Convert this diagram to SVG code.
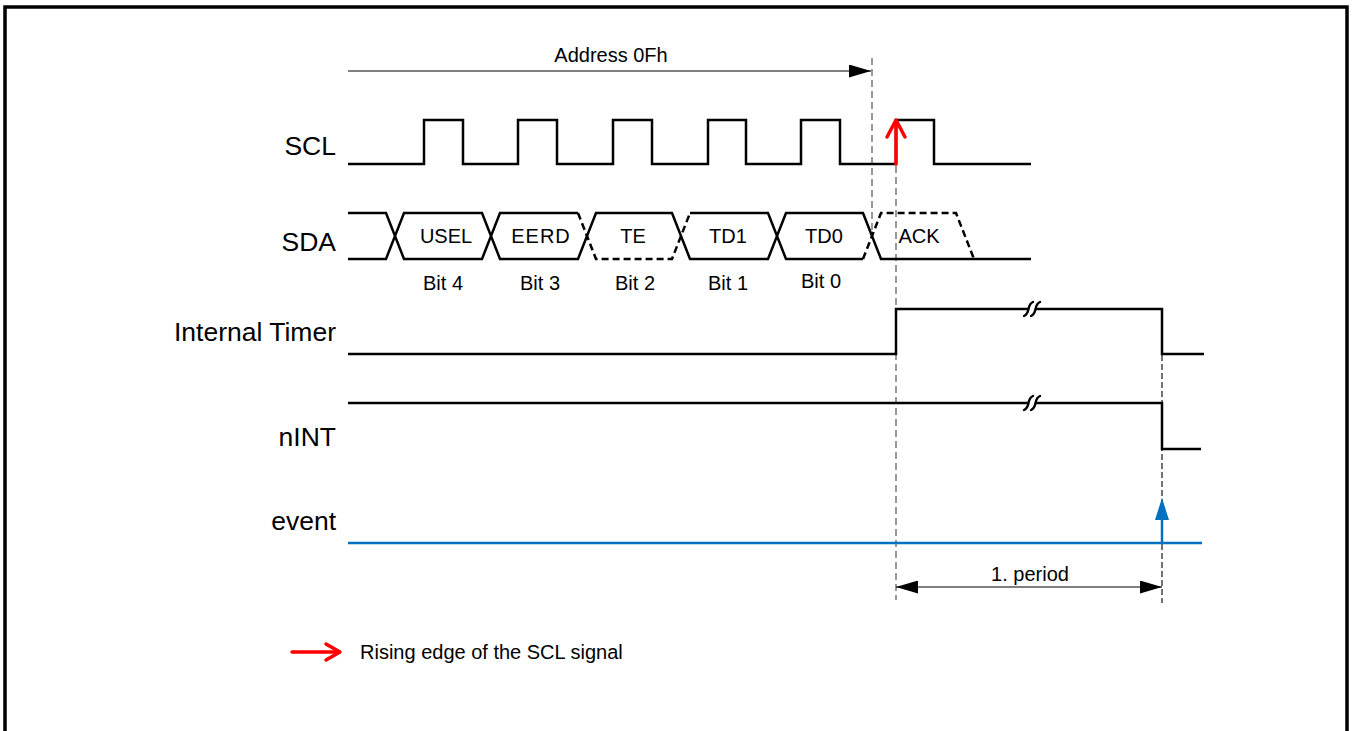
<svg xmlns="http://www.w3.org/2000/svg" width="1352" height="731" viewBox="0 0 1352 731">
<style>
text{font-family:"Liberation Sans",Arial,sans-serif;fill:#000}
.lbl{font-size:26.5px;text-anchor:end}
.sm{font-size:20px;text-anchor:middle}
.sig{fill:none;stroke:#000;stroke-width:2.5;stroke-linejoin:miter}
.dsh{fill:none;stroke:#000;stroke-width:2.5;stroke-dasharray:7,4}
.gdash{fill:none;stroke:#808080;stroke-width:1.6;stroke-dasharray:7,4}
.bdash{fill:none;stroke:#000;stroke-width:1.1;stroke-dasharray:6,3}
.thin{fill:none;stroke:#000;stroke-width:1.2}
.brk{fill:none;stroke:#000;stroke-width:2.4;stroke-linecap:round}
.red{fill:none;stroke:#FF0000;stroke-width:3.5;stroke-linecap:round;stroke-linejoin:round}
</style>
<defs>
<marker id="ah" viewBox="0 0 22 13" refX="22" refY="6.5" markerWidth="22" markerHeight="13" markerUnits="userSpaceOnUse" orient="auto-start-reverse">
<path d="M0,0 L22,6.5 L0,13 z" fill="#000"/>
</marker>
<marker id="bh" viewBox="0 0 22 14" refX="1" refY="7" markerWidth="22" markerHeight="14" markerUnits="userSpaceOnUse" orient="auto">
<path d="M0,0 L22,7 L0,14 z" fill="#0070C0"/>
</marker>
</defs>
<rect x="5" y="7" width="1342" height="740" fill="none" stroke="#000" stroke-width="3.5"/>

<g id="connectors">
<line class="thin" x1="348" y1="71" x2="871" y2="71" marker-end="url(#ah)"/>
<line class="gdash" x1="872" y1="58" x2="872" y2="236"/>
<line class="gdash" x1="896" y1="166" x2="896" y2="600"/>
<line class="bdash" x1="1162" y1="355" x2="1162" y2="603"/>
<line class="thin" x1="896" y1="587" x2="1162" y2="587" marker-start="url(#ah)" marker-end="url(#ah)"/>
</g>

<g id="address-label"><text class="sm" x="611" y="62">Address 0Fh</text></g>

<g id="scl">
<text class="lbl" x="336" y="155">SCL</text>
<path class="sig" d="M348,164 H424 V120 H463 V164 H518 V120 H557 V164 H613 V120 H652 V164 H708 V120 H746 V164 H801 V120 H840 V164 H896 V120 H934 V164 H1031"/>
<line class="red" x1="896" y1="164" x2="896" y2="122"/>
<polyline class="red" points="887,137 896,120 905,137"/>
</g>

<g id="sda">
<text class="lbl" x="336" y="251">SDA</text>
<path class="sig" d="M348,213 H386 L404,259 H482 L500,213 H578 M348,259 H386 L404,213 H482 L500,259 H578 L596,213 H672 L690,259 H768 L786,213 H863 L881,259 H1031 M690,213 H768 L786,259 H863"/>
<path class="dsh" d="M578,213 L596,259 H672 L690,213 M863,259 L881,213 H956 L974,259"/>
<text class="sm" x="446" y="243">USEL</text>
<text class="sm" x="541" y="243" letter-spacing="1">EERD</text>
<text class="sm" x="633" y="243">TE</text>
<text class="sm" x="728" y="243">TD1</text>
<text class="sm" x="824" y="243">TD0</text>
<text class="sm" x="919" y="243">ACK</text>
<text class="sm" x="443" y="290">Bit 4</text>
<text class="sm" x="540" y="290">Bit 3</text>
<text class="sm" x="635" y="290">Bit 2</text>
<text class="sm" x="728" y="290">Bit 1</text>
<text class="sm" x="821" y="288">Bit 0</text>
</g>

<g id="internal-timer">
<text class="lbl" x="336" y="341">Internal Timer</text>
<path class="sig" d="M348,354 H896 V309 H1162 V354 H1204"/>
<path d="M1024,316 C1031,313 1026,305 1033,302 L1040,302 C1033,305 1038,313 1031,316 Z" fill="#fff"/>
<path class="brk" d="M1024,316 C1031,313 1026,305 1033,302 M1031,316 C1038,313 1033,305 1040,302"/>
</g>

<g id="nint">
<text class="lbl" x="336" y="446">nINT</text>
<path class="sig" d="M348,403 H1162 V449 H1201"/>
<path d="M1024,410 C1031,407 1026,399 1033,396 L1040,396 C1033,399 1038,407 1031,410 Z" fill="#fff"/>
<path class="brk" d="M1024,410 C1031,407 1026,399 1033,396 M1031,410 C1038,407 1033,399 1040,396"/>
</g>

<g id="event">
<text class="lbl" x="336" y="530">event</text>
<line x1="348" y1="543" x2="1202" y2="543" stroke="#0070C0" stroke-width="2.5"/>
<line x1="1162" y1="543" x2="1162" y2="519" stroke="#0070C0" stroke-width="2.5" marker-end="url(#bh)"/>
</g>

<g id="period-label"><text class="sm" x="1030" y="581">1. period</text></g>

<g id="legend">
<line class="red" x1="292" y1="652" x2="339" y2="652"/>
<polyline class="red" points="326,644 340,652 326,660"/>
<text x="360" y="659" font-size="20">Rising edge of the SCL signal</text>
</g>
</svg>
